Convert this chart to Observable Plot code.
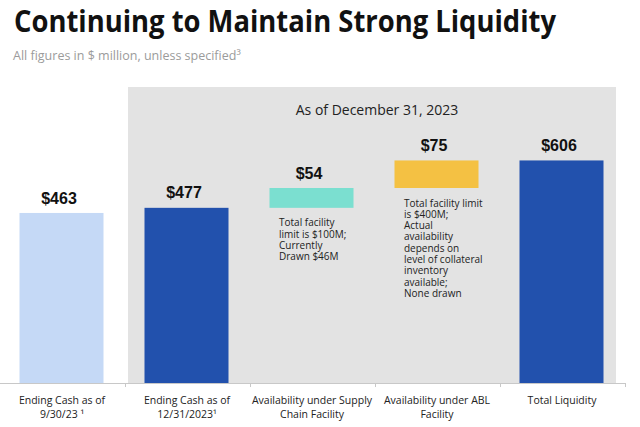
<!DOCTYPE html>
<html><head><meta charset="utf-8">
<script src="https://cdn.jsdelivr.net/npm/d3@7"></script>
<script src="https://cdn.jsdelivr.net/npm/@observablehq/plot@0.6"></script>
<style>
body{margin:0;background:#fff;}
svg{display:block;}
g[aria-label="value-bar"] rect{filter:drop-shadow(2px 1px 1px rgba(0,0,0,0.3));}
</style></head><body>
<svg id="head" width="640" height="75"></svg>
<div id="chart"></div>
<script>
const titleText = "Continuing to Maintain Strong Liquidity";
const subtitleText = "All figures in $ million, unless specified³";
const headerText = "As of December 31, 2023";
const categories = ["cash0930", "cash1231", "supply", "abl", "total"];
const tickLabels = ["Ending Cash as of\n9/30/23 ¹", "Ending Cash as of\n12/31/2023¹", "Availability under Supply\nChain Facility", "Availability under ABL\nFacility", "Total Liquidity"];
const baseValues = [0, 0, 477, 531, 0];
const topValues = [463, 477, 531, 606, 606];
const valueLabels = ["$463", "$477", "$54", "$75", "$606"];
const notes = ["", "", "Total facility\nlimit is $100M;\nCurrently\nDrawn $46M", "Total facility limit\nis $400M;\nActual\navailability\ndepends on\nlevel of collateral\ninventory\navailable;\nNone drawn", ""];
const panelCategories = ["cash1231", "supply", "abl", "total"];
const panelTop = 806;
const headerValue = 743;

const rows = categories.map((c, i) => ({cat: c, tick: tickLabels[i], base: baseValues[i], top: topValues[i], label: valueLabels[i], note: notes[i]}));

const head = d3.select("#head");
head.append("text").attr("x", 14).attr("y", 32)
  .attr("font-family", "Open Sans").attr("font-weight", 700).attr("font-size", 30)
  .attr("fill", "#111").attr("textLength", 542).attr("lengthAdjust", "spacingAndGlyphs")
  .text(titleText);
head.append("text").attr("x", 13).attr("y", 60)
  .attr("font-family", "Open Sans").attr("font-size", 12.5).attr("fill", "#9b9b9b")
  .text(subtitleText);

const step = 125;
const plot = Plot.plot({
  width: 640, height: 352,
  marginTop: 12, marginBottom: 44, marginLeft: 0, marginRight: 15,
  x: {type: "band", domain: categories, padding: 0, axis: null},
  y: {domain: [0, panelTop], axis: null},
  color: {domain: categories, range: ["#c5d9f6", "#2251ad", "#7bdfd0", "#f4c143", "#2251ad"]},
  style: {fontFamily: "Open Sans", background: "transparent", overflow: "visible"},
  marks: [
    Plot.barY(panelCategories.slice(0, 1), {x: d => d, y1: 0, y2: panelTop, fill: "#e3e3e3", insetLeft: 3, insetRight: 0, shapeRendering: "crispEdges"}),
    Plot.barY(panelCategories.slice(1, 3), {x: d => d, y1: 0, y2: panelTop, fill: "#e3e3e3", inset: 0, shapeRendering: "crispEdges"}),
    Plot.barY(panelCategories.slice(3), {x: d => d, y1: 0, y2: panelTop, fill: "#e3e3e3", insetLeft: 0, insetRight: 9, shapeRendering: "crispEdges"}),
    Plot.barY(rows, {x: "cat", y1: "base", y2: "top", fill: "cat", insetLeft: 19.5, insetRight: 21.5, ariaLabel: "value-bar"}),
    Plot.ruleY([0], {stroke: "#c8c8c8"}),
    Plot.ruleX(categories, {x: d => d, dx: step / 2, y1: 0, y2: -11, stroke: "#c8c8c8"}),
    Plot.text([headerText], {x: () => categories[3], dx: -step / 2 + 1.5, y: () => headerValue, text: d => d, fontSize: 14, fill: "#222"}),
    Plot.text(rows, {x: "cat", y: "top", text: "label", dx: -4, dy: -15, fontSize: 16, fontWeight: "bold", fontFamily: "Liberation Sans, Arial, sans-serif", fill: "#111"}),
    Plot.text(rows.filter(d => d.note), {x: "cat", y: "base", text: "note", textAnchor: "start", lineAnchor: "top", dx: -34, dy: 10, fontSize: 10, lineHeight: 1.13, fill: "#222"}),
    Plot.text(rows, {x: "cat", y: () => 0, text: "tick", lineAnchor: "top", dx: -1, dy: 11, fontSize: 10.5, lineHeight: 1.33, fill: "#222"})
  ]
});
document.getElementById("chart").appendChild(plot);
</script>
</body></html>
